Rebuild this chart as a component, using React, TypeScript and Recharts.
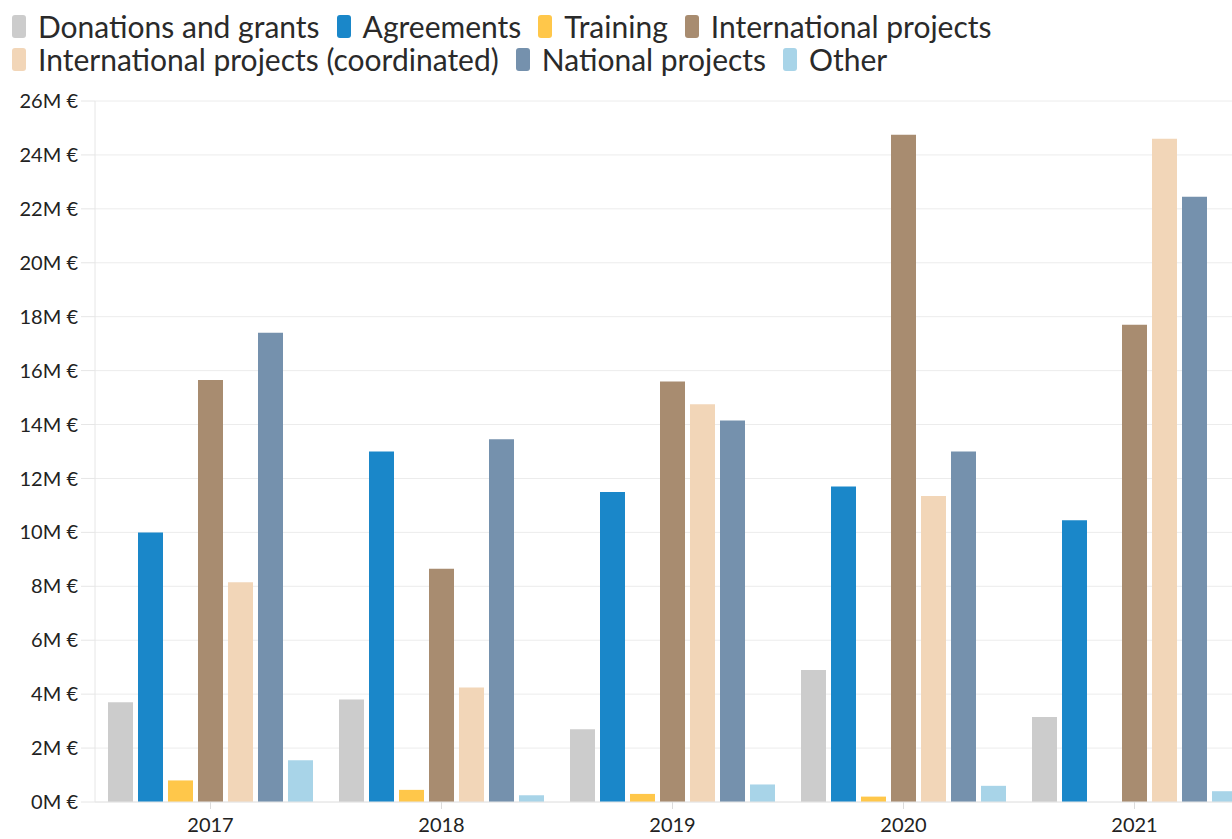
import React from 'react';
import { BarChart, Bar, XAxis, YAxis, CartesianGrid, Legend } from 'recharts';

const years = ['2017', '2018', '2019', '2020', '2021'];

// values in millions of euros
const donations = [3.7, 3.8, 2.7, 4.9, 3.15];
const agreements = [10.0, 13.0, 11.5, 11.7, 10.45];
const training = [0.8, 0.45, 0.3, 0.2, 0];
const internationalProjects = [15.65, 8.65, 15.6, 24.75, 17.7];
const internationalCoordinated = [8.15, 4.25, 14.75, 11.35, 24.6];
const nationalProjects = [17.4, 13.45, 14.15, 13.0, 22.45];
const other = [1.55, 0.25, 0.65, 0.6, 0.4];

const yTicks = [0, 2, 4, 6, 8, 10, 12, 14, 16, 18, 20, 22, 24, 26];

const series = [
  { key: 'donations', name: 'Donations and grants', color: '#cccccc', values: donations },
  { key: 'agreements', name: 'Agreements', color: '#1a87c9', values: agreements },
  { key: 'training', name: 'Training', color: '#ffc74a', values: training },
  { key: 'intl', name: 'International projects', color: '#a88c70', values: internationalProjects },
  { key: 'intlCoord', name: 'International projects (coordinated)', color: '#f2d6b8', values: internationalCoordinated },
  { key: 'national', name: 'National projects', color: '#7591ad', values: nationalProjects },
  { key: 'other', name: 'Other', color: '#a8d4e8', values: other },
];

const data = years.map((year, i) => {
  const row: any = { year };
  series.forEach((s) => {
    row[s.key] = s.values[i];
  });
  return row;
});

const LegendItem = ({ name, color }: { name: string; color: string }) => (
  <span style={{ display: 'inline-flex', alignItems: 'center', marginRight: 17 }}>
    <span style={{ display: 'inline-block', width: 14, height: 23, borderRadius: 3, background: color, marginRight: 12 }} />
    <span>{name}</span>
  </span>
);

const CustomLegend = () => {
  const rows = [series.slice(0, 4), series.slice(4)];
  return (
    <div style={{ fontFamily: 'Lato', fontSize: 30, color: '#2a2a2a', lineHeight: '33px' }}>
      {rows.map((row, r) => (
        <div key={r} style={{ whiteSpace: 'nowrap', height: 33 }}>
          {row.map((s) => (
            <LegendItem key={s.key} name={s.name} color={s.color} />
          ))}
        </div>
      ))}
    </div>
  );
};

export default function App() {
  return (
    <div style={{ position: 'absolute', left: 0, top: 0, width: 1232, height: 839, overflow: 'hidden', background: '#fff' }}>
      <BarChart
        width={1250}
        height={839}
        data={data}
        margin={{ top: 101, right: 0, left: 0, bottom: 0 }}
        barCategoryGap={13}
        barGap={5}
      >
        <CartesianGrid vertical={false} stroke="#ececec" />
        <XAxis
          dataKey="year"
          height={37}
          tickSize={7}
          tickMargin={9}
          axisLine={{ stroke: '#e6e6e6' }}
          tickLine={{ stroke: '#dcdcdc' }}
          tick={{ fill: '#222', fontSize: 20, fontFamily: 'Lato' }}
        />
        <YAxis
          width={95}
          domain={[0, 26]}
          ticks={yTicks}
          interval={0}
          tickSize={14}
          tickMargin={3}
          axisLine={{ stroke: '#e6e6e6' }}
          tickLine={{ stroke: '#e6e6e6' }}
          tick={{ fill: '#222', fontSize: 20, fontFamily: 'Lato' }}
          tickFormatter={(v) => `${v}M €`}
        />
        <Legend
          layout="horizontal"
          verticalAlign="middle"
          align="center"
          wrapperStyle={{ top: 10, left: 12, width: 1200 }}
          content={<CustomLegend />}
        />
        {series.map((s) => (
          <Bar key={s.key} dataKey={s.key} name={s.name} fill={s.color} isAnimationActive={false} />
        ))}
      </BarChart>
    </div>
  );
}
